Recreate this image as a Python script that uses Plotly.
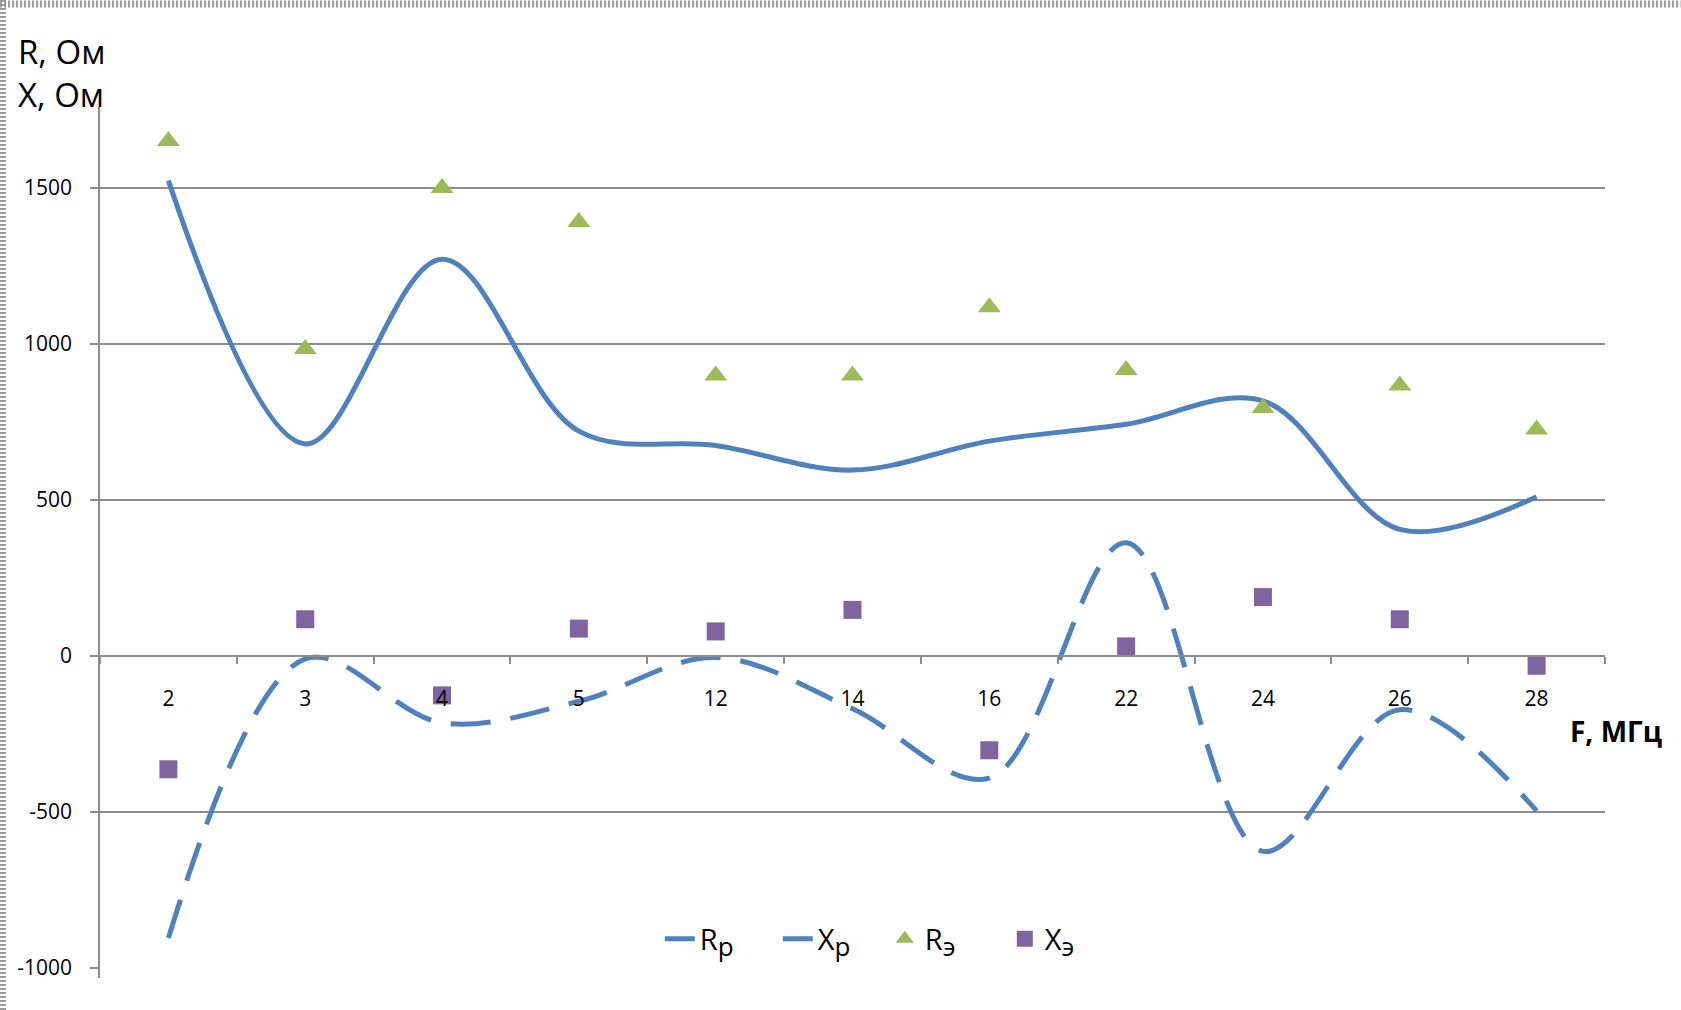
import plotly.graph_objects as go

# ---- data ----
freq = ["2", "3", "4", "5", "12", "14", "16", "22", "24", "26", "28"]
r_calc = [1524, 680, 1272, 721, 675, 596, 689, 743, 818, 406, 511]     # R р (solid)
x_calc = [-904, -9, -214, -145, -5, -169, -391, 363, -626, -172, -496]  # X р (dashed)
r_exp = [1651, 984, 1500, 1391, 899, 899, 1118, 917, 795, 867, 726]    # R э (triangles)
x_exp = [-363, 118, -126, 88, 79, 148, -302, 31, 189, 118, -31]        # X э (squares)

y_ticks = [-1000, -500, 0, 500, 1000, 1500]
y_tick_text = ["-1000", "-500", "0", "500", "1000", "1500"]
grid_vals = [-500, 500, 1000, 1500]
y_range = [-1032, 1760]

FONT = "Open Sans"
BLUE = "#4F81BD"
GREEN = "#9BBB59"
PURPLE = "#8064A2"
GRID = "#8C8C8C"

W, H = 1681, 1010
ML, MR, MT, MB = 100, 75.5, 107, 32
PW = W - ML - MR
PH = H - MT - MB


def px_x(px):
    return (px - ML) / PW


def px_y(py):
    return (H - MB - py) / PH


def sub(base, s):
    return base + "<sub><span style='font-size:26px'>" + s + "</span></sub>"


fig = go.Figure()
fig.add_trace(go.Scatter(
    x=freq, y=r_calc, mode="lines", name=sub("R", "р"),
    line=dict(color=BLUE, width=5, shape="spline", smoothing=1.0),
    legendwidth=73))
fig.add_trace(go.Scatter(
    x=freq, y=x_calc, mode="lines", name=sub("X", "р"),
    line=dict(color=BLUE, width=5, shape="spline", smoothing=1.0, dash="40px,20px"),
    legendwidth=62))
fig.add_trace(go.Scatter(
    x=freq, y=r_exp, mode="markers", name=sub("R", "э"),
    marker=dict(symbol="triangle-up", size=20, color=GREEN),
    legendwidth=75))
fig.add_trace(go.Scatter(
    x=freq, y=x_exp, mode="markers", name=sub("X", "э"),
    marker=dict(symbol="square", size=18, color=PURPLE),
    legendwidth=60))

zero_pos = (0 - y_range[0]) / (y_range[1] - y_range[0])

fig.update_layout(
    width=W, height=H,
    margin=dict(l=ML, r=MR, t=MT, b=MB, pad=0),
    paper_bgcolor="white", plot_bgcolor="white",
    font=dict(family=FONT, color="#000000"),
    showlegend=True,
    legend=dict(orientation="h", x=px_x(660), xanchor="left",
                y=px_y(939), yanchor="middle",
                font=dict(family=FONT, size=29, color="#000000"),
                bgcolor="rgba(0,0,0,0)", borderwidth=0, itemwidth=30),
    xaxis=dict(type="category", categoryorder="array", categoryarray=freq,
               range=[-0.5, len(freq) - 0.5],
               anchor="free", position=zero_pos,
               showline=True, linecolor=GRID, linewidth=1.5,
               ticks="outside", tickson="boundaries", ticklen=7, tickwidth=1.5,
               tickcolor=GRID, showgrid=False, zeroline=False,
               tickfont=dict(family=FONT, size=21, color="#000000"),
               ticklabelstandoff=24),
    yaxis=dict(range=y_range, tickvals=y_ticks, ticktext=y_tick_text,
               showline=True, linecolor=GRID, linewidth=1.5,
               ticks="outside", ticklen=8, tickwidth=1.5, tickcolor=GRID,
               showgrid=False, zeroline=False,
               tickfont=dict(family=FONT, size=21, color="#000000"),
               ticklabelstandoff=14),
    yaxis2=dict(range=y_range, tickvals=grid_vals, overlaying="y", side="left",
                showgrid=True, gridcolor=GRID, gridwidth=1.5,
                showticklabels=False, ticks="", showline=False, zeroline=False),
    annotations=[
        dict(text="R, Ом<br>X, Ом", xref="paper", yref="paper",
             x=px_x(16), y=px_y(27), xanchor="left", yanchor="top",
             align="left", showarrow=False,
             font=dict(family=FONT, size=33, color="#000000")),
        dict(text="<b>F, МГц</b>", xref="paper", yref="paper",
             x=px_x(1617), y=px_y(731), xanchor="center", yanchor="middle",
             showarrow=False,
             font=dict(family=FONT, size=28, color="#000000")),
    ],
    shapes=[
        dict(type="line", xref="paper", yref="paper",
             x0=px_x(0), x1=px_x(W), y0=px_y(4), y1=px_y(4),
             line=dict(color="#9A9A9A", width=7, dash="2px,2px")),
        dict(type="line", xref="paper", yref="paper",
             x0=px_x(3), x1=px_x(3), y0=px_y(0), y1=px_y(H),
             line=dict(color="#9A9A9A", width=6, dash="2px,2px")),
    ],
)

# invisible helper trace to activate the grid axis
fig.add_trace(go.Scatter(x=[freq[0]], y=[0], yaxis="y2", mode="markers",
                         marker=dict(opacity=0), showlegend=False, hoverinfo="skip"))

fig.write_html("out.html", config={"displayModeBar": False},
               post_script="document.body.style.margin='0';document.body.style.overflow='hidden';")
